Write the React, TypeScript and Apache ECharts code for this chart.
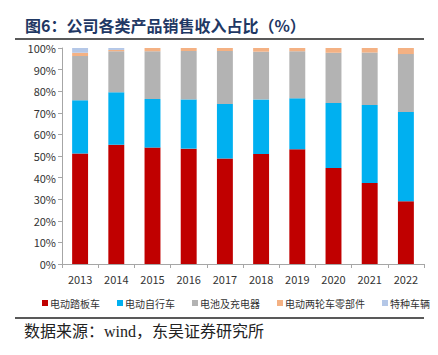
import React, { useEffect, useRef } from "react";
import * as echarts from "echarts";

const years = ["2013", "2014", "2015", "2016", "2017", "2018", "2019", "2020", "2021", "2022"];
const scooter = [51.1, 55.2, 53.9, 53.4, 48.8, 50.9, 53.1, 44.4, 37.5, 29.0];
const bicycle = [24.7, 24.3, 22.5, 22.8, 25.3, 25.3, 23.6, 30.1, 36.1, 41.4];
const battery = [20.5, 19.0, 22.1, 22.4, 24.5, 22.1, 21.8, 23.3, 24.3, 26.8];
const parts = [1.5, 0.6, 1.5, 1.4, 1.4, 1.7, 1.5, 2.2, 2.1, 2.8];
const special = [2.2, 0.9, 0, 0, 0, 0, 0, 0, 0, 0];
const seriesNames = ["电动踏板车", "电动自行车", "电池及充电器", "电动两轮车零部件", "特种车辆"];
const colors = ["#C00000", "#00B0F0", "#B3B3B3", "#F4B183", "#B4C7E7"];
const yTicks = [0, 10, 20, 30, 40, 50, 60, 70, 80, 90, 100];

export default function App() {
  const ref = useRef<HTMLDivElement>(null);
  useEffect(() => {
    const chart = echarts.init(ref.current!, null, { renderer: "svg" });
    const data = [scooter, bicycle, battery, parts, special];
    chart.setOption({
      animation: false,
      backgroundColor: "#ffffff",
      textStyle: { fontFamily: "'Noto Sans CJK SC', 'Noto Sans', sans-serif" },
      grid: { left: 62, right: 14, top: 48, bottom: 91 },
      legend: {
        top: 293,
        left: 37,
        width: 420,
        itemWidth: 6,
        itemHeight: 6,
        itemGap: 17,
        icon: "rect",
        textStyle: { fontSize: 10, color: "#333", padding: [0, 0, 0, -3] },
        data: seriesNames,
      },
      xAxis: {
        type: "category",
        data: years,
        axisLine: { lineStyle: { color: "#A6A6A6" } },
        axisTick: { show: true, lineStyle: { color: "#A6A6A6" }, length: 4 },
        axisLabel: { fontSize: 11, color: "#333", margin: 9 },
      },
      yAxis: {
        type: "value",
        min: yTicks[0],
        max: yTicks[yTicks.length - 1],
        interval: 10,
        axisLine: { show: true, lineStyle: { color: "#A6A6A6" } },
        axisTick: { show: true, lineStyle: { color: "#A6A6A6" }, length: 4 },
        splitLine: { show: false },
        axisLabel: { fontSize: 11, color: "#333", formatter: "{value}%", margin: 6 },
      },
      series: data.map((d, i) => ({
        name: seriesNames[i],
        type: "bar",
        stack: "total",
        barWidth: "44%",
        data: d,
        itemStyle: { color: colors[i] },
      })),
      graphic: [
        {
          type: "text",
          left: 25,
          top: 17,
          style: {
            text: "图6：公司各类产品销售收入占比（%）",
            fontSize: 16,
            fontWeight: "bold",
            fill: "#1F3864",
            fontFamily: "'Noto Sans CJK SC', sans-serif",
          },
        },
        {
          type: "line",
          shape: { x1: 15, y1: 39, x2: 424, y2: 39 },
          style: { stroke: "#222", lineWidth: 1.5 },
        },
        {
          type: "line",
          shape: { x1: 15, y1: 318, x2: 424, y2: 318 },
          style: { stroke: "#222", lineWidth: 1.5 },
        },
        {
          type: "text",
          left: 24,
          top: 323,
          style: {
            text: "数据来源：wind，东吴证券研究所",
            fontSize: 16,
            fill: "#222",
            fontFamily: "'Liberation Serif', 'Noto Sans CJK SC', serif",
          },
        },
      ],
    });
    return () => chart.dispose();
  }, []);
  return (
    <div
      ref={ref}
      style={{ position: "fixed", left: 0, top: 0, width: 438, height: 355 }}
    />
  );
}
